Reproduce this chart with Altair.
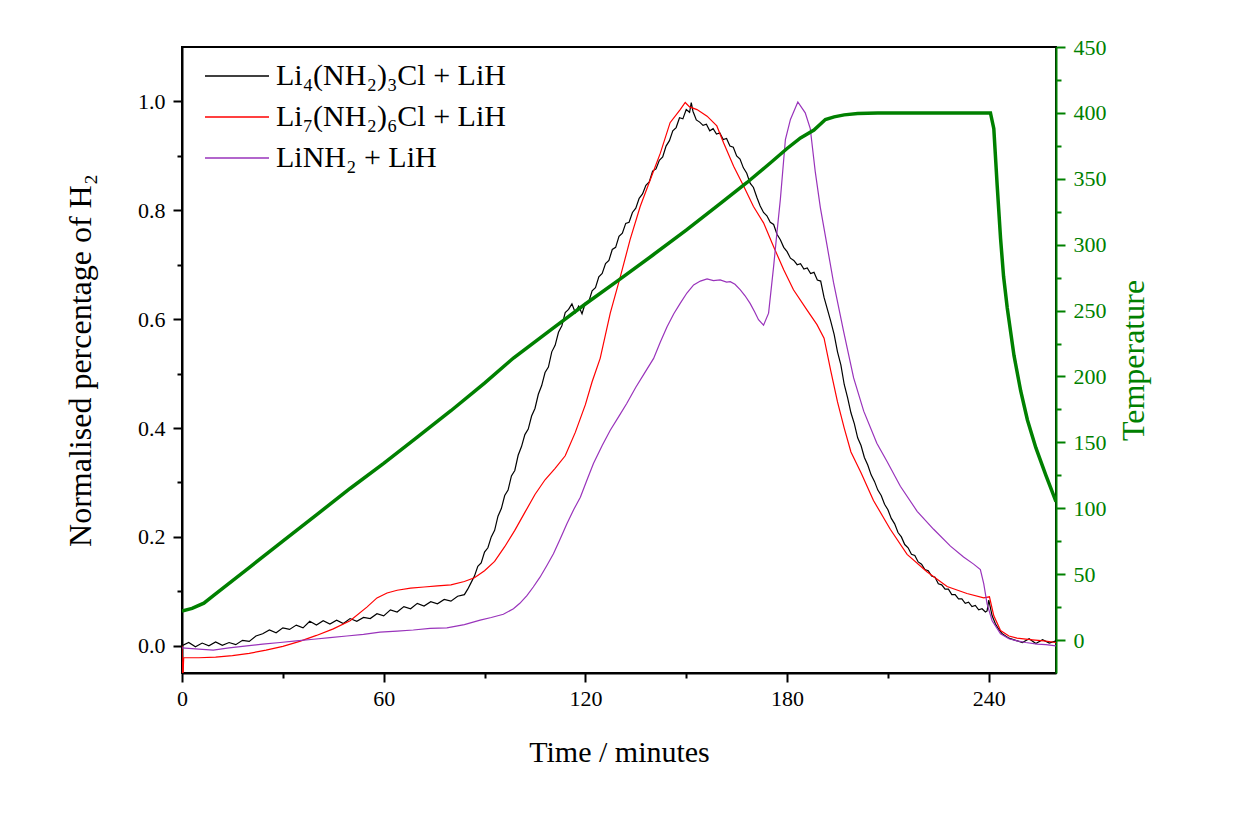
import altair as alt
import pandas as pd

FONT = "Liberation Serif"
GREEN = "#008000"

# ---- data ----
black_t = [0, 2, 4, 6, 8, 10, 12, 14, 16, 18, 20, 22, 24, 26, 28, 30, 32, 34, 36, 38,
           40, 42, 44, 46, 48, 50, 52, 54, 56, 58, 60, 62, 64, 66, 68, 70, 72, 74, 76, 78,
           80, 82,
           84, 85, 86, 87, 88, 89, 90, 91, 92, 93, 94, 95, 96, 97, 98, 99, 100, 101, 102,
           103, 104, 105, 106, 107, 108, 109, 110, 111, 112, 113, 114, 115, 116, 117, 118,
           119, 120, 121, 122, 123, 124, 125, 126, 127, 128, 129, 130, 131, 132, 133, 134,
           135, 136, 137, 138, 139, 140, 141, 142, 143, 144, 145, 146, 147, 148, 149, 150,
           151, 151.5, 152,
           153, 154, 155, 156, 157, 158, 159, 160, 161, 162, 163, 164, 165, 166, 167, 168,
           169, 170, 171, 172, 173, 174, 175, 176, 177, 178, 179, 180, 181, 182, 183, 184,
           185, 186, 187, 188, 189, 190, 191, 192, 193, 194, 195, 196, 197, 198, 199, 200,
           201, 202, 203, 204, 205, 206, 207, 208, 209, 210, 211, 212, 213, 214, 215, 216,
           217, 218, 219, 220, 221, 222, 223, 224, 225, 226, 227, 228, 229, 230, 231, 232,
           233, 234, 235, 236, 237, 238, 239, 239.5,
           240, 241, 242, 243, 244, 246, 248, 250, 252, 254, 256, 258, 260]
black_v = [0.000, 0.006, -0.002, 0.005, 0.000, 0.007, 0.001, 0.006, 0.002, 0.010, 0.008,
           0.018, 0.022, 0.029, 0.024, 0.033, 0.030, 0.038, 0.033, 0.045, 0.038, 0.046,
           0.040, 0.047, 0.041, 0.050, 0.045, 0.052, 0.050, 0.059, 0.055, 0.066, 0.062,
           0.072, 0.068, 0.078, 0.073, 0.081, 0.077, 0.085, 0.082, 0.091,
           0.094, 0.104, 0.116, 0.128, 0.146, 0.152, 0.172, 0.180, 0.200, 0.212, 0.238,
           0.252, 0.276, 0.286, 0.312, 0.322, 0.350, 0.366, 0.388, 0.398, 0.422, 0.436,
           0.462, 0.478, 0.502, 0.512, 0.540, 0.552, 0.576, 0.588, 0.612, 0.618, 0.628,
           0.612, 0.624, 0.610, 0.630, 0.632, 0.652, 0.658, 0.678, 0.684, 0.702, 0.708,
           0.728, 0.732, 0.752, 0.758, 0.776, 0.778, 0.796, 0.804, 0.822, 0.830, 0.846,
           0.852, 0.872, 0.876, 0.892, 0.898, 0.918, 0.928, 0.946, 0.952, 0.970, 0.968,
           0.985, 0.980, 0.998, 0.982,
           0.966, 0.962, 0.956, 0.958, 0.946, 0.950, 0.940, 0.942, 0.930, 0.932, 0.918,
           0.916, 0.900, 0.894, 0.878, 0.868, 0.850, 0.842, 0.824, 0.808, 0.796, 0.790,
           0.778, 0.774, 0.756, 0.746, 0.732, 0.724, 0.712, 0.708, 0.700, 0.702, 0.692,
           0.694, 0.684, 0.686, 0.672, 0.670, 0.640, 0.618, 0.596, 0.572, 0.540, 0.516,
           0.480, 0.456, 0.428, 0.408, 0.382, 0.368, 0.346, 0.332, 0.314, 0.302, 0.286,
           0.276, 0.260, 0.250, 0.234, 0.224, 0.208, 0.200, 0.186, 0.180, 0.168, 0.166,
           0.154, 0.150, 0.140, 0.138, 0.128, 0.126, 0.114, 0.112, 0.104, 0.104, 0.094,
           0.094, 0.086, 0.086, 0.078, 0.080, 0.072, 0.074, 0.066, 0.068, 0.062, 0.064,
           0.084, 0.055, 0.040, 0.030, 0.022, 0.014, 0.010, 0.006, 0.013, 0.004, 0.011,
           0.005, 0.009]

red_t = [0, 0.2, 0.5, 5, 10, 15, 20, 25, 30, 35, 40, 45, 50, 55, 58, 61, 64, 68, 72, 76,
         80, 84, 87, 90, 93, 96, 99, 102, 105, 108, 111, 114, 117, 120, 122, 124.4, 127.4,
         130.4, 133.3, 136.3, 139.3, 142.3, 145.2, 148.2, 149.7, 151, 153.2, 156.2, 159.1,
         161.1, 164.1, 167.1, 170, 173, 176, 179, 181.9, 185.9, 188.9, 191, 193, 195, 197,
         199, 202, 205.7, 210.7, 215.7, 221.6, 227.6, 233.5, 238.5, 240.2, 241.5, 243.5,
         246, 248.4, 253, 256.4, 260]
red_v = [0.0, -0.07, -0.022, -0.022, -0.021, -0.018, -0.014, -0.008, -0.001, 0.008, 0.019,
         0.031, 0.046, 0.071, 0.088, 0.097, 0.102, 0.106, 0.108, 0.110, 0.112, 0.118, 0.125,
         0.138, 0.155, 0.182, 0.212, 0.245, 0.278, 0.305, 0.326, 0.349, 0.392, 0.443, 0.485,
         0.528, 0.611, 0.678, 0.746, 0.807, 0.856, 0.905, 0.961, 0.985, 0.998, 0.990, 0.985,
         0.973, 0.955, 0.924, 0.881, 0.844, 0.807, 0.777, 0.733, 0.691, 0.654, 0.617, 0.590,
         0.565, 0.505, 0.448, 0.400, 0.356, 0.318, 0.267, 0.214, 0.168, 0.136, 0.109, 0.096,
         0.088, 0.090, 0.055, 0.028, 0.018, 0.014, 0.011, 0.009, 0.006]

purple_t = [0, 5, 9.3, 14, 19.3, 24, 29.2, 34, 39.1, 44, 49, 54, 58.9, 64, 68.8, 73.8, 78.8,
            84, 88.7, 92, 95.6, 98.6, 100.5, 102.6, 104.5, 106.5, 108.5, 110.5, 112.5, 114.5,
            116.5, 118.5, 120.5, 122.4, 125, 127.4, 130, 132.3, 135, 137.5, 140.3, 142.3,
            144.3, 146.3, 148.2, 150.2, 152.2, 154.2, 156.2, 158.1, 160.1, 162, 163.1, 164.5,
            166.1, 167.5, 169, 170.3, 171.5, 173, 174.5, 176, 177, 178, 179.5, 181, 183.2,
            185.4, 186.9, 188.4, 189.9, 191.9, 193.8, 196.8, 199.8, 202.8, 206.7, 209.7,
            213.7, 218.7, 223.6, 228.6, 232.5, 235.5, 237.5, 238.5, 239.5, 241, 243.5, 246,
            248.4, 251, 254.4, 257, 260]
purple_v = [-0.004, -0.006, -0.008, -0.004, 0.000, 0.003, 0.006, 0.009, 0.012, 0.015, 0.018,
            0.021, 0.025, 0.027, 0.029, 0.032, 0.033, 0.039, 0.047, 0.052, 0.058, 0.068,
            0.078, 0.092, 0.108, 0.126, 0.147, 0.169, 0.196, 0.224, 0.250, 0.273, 0.305,
            0.335, 0.368, 0.396, 0.422, 0.445, 0.475, 0.500, 0.528, 0.558, 0.586, 0.610,
            0.629, 0.648, 0.663, 0.670, 0.674, 0.671, 0.672, 0.668, 0.669, 0.664, 0.654,
            0.643, 0.629, 0.614, 0.599, 0.589, 0.611, 0.697, 0.760, 0.820, 0.930, 0.967,
            0.999, 0.979, 0.950, 0.870, 0.805, 0.735, 0.668, 0.578, 0.492, 0.431, 0.372,
            0.339, 0.293, 0.247, 0.214, 0.183, 0.163, 0.150, 0.140, 0.114, 0.077, 0.046,
            0.022, 0.013, 0.009, 0.006, 0.003, 0.002, 0.000]

temp_t = [0, 3, 6.5, 10, 20, 30, 40, 50, 60, 70, 80, 90, 98.6, 110, 120, 130.4, 140, 150,
          160, 168, 175, 180, 184, 188, 191.4, 194, 197, 201, 207, 240.5, 241.5, 242.5,
          243.5, 244.4, 245.5, 247.5, 249.5, 251.5, 254, 257, 260]
temp_v = [22, 24, 28, 35, 55, 75, 95, 115, 134, 154, 174, 195, 214, 236, 255, 274, 292,
          311, 331, 347, 362, 373, 381, 387, 395, 397, 398.5, 399.5, 400, 400, 388, 345,
          305, 276, 252, 216, 189, 167, 146, 125, 105]

names = ["Li\u2084(NH\u2082)\u2083Cl + LiH", "Li\u2087(NH\u2082)\u2086Cl + LiH", "LiNH\u2082 + LiH"]
colors = ["#000000", "#ff0000", "#9933bb"]

rows = []
for name, ts, vs in zip(names, [black_t, red_t, purple_t], [black_v, red_v, purple_v]):
    for i, (t, v) in enumerate(zip(ts, vs)):
        rows.append({"t": t, "v": v, "series": name, "i": i})
h2 = pd.DataFrame(rows)
temp = pd.DataFrame({"t": temp_t, "T": temp_v})

x_scale = alt.Scale(domain=[0, 260], nice=False, zero=False)
x_axis = alt.Axis(
    title="Time / minutes",
    values=[0, 30, 60, 90, 120, 150, 180, 210, 240],
    labelExpr="datum.value % 60 === 0 ? datum.label : ''",
    tickSize={"condition": {"test": "datum.value % 60 === 0", "value": 9}, "value": 5},
    grid=False, labelOverlap=False, labelFlush=False,
    domainColor="#000", tickColor="#000", labelColor="#000", titleColor="#000",
    labelFontSize=22, titleFontSize=30, titlePadding=28, labelPadding=6,
)
x_enc = alt.X("t:Q", scale=x_scale, axis=x_axis)

left_axis = alt.Axis(
    title="Normalised percentage of H\u2082",
    values=[0, 0.1, 0.2, 0.3, 0.4, 0.5, 0.6, 0.7, 0.8, 0.9, 1.0],
    labelExpr="round(datum.value*10) % 2 === 0 ? format(datum.value, '.1f') : ''",
    tickSize={"condition": {"test": "round(datum.value*10) % 2 === 0", "value": 9}, "value": 5},
    grid=False, labelOverlap=False, labelFlush=False, orient="left",
    domainColor="#000", tickColor="#000", labelColor="#000", titleColor="#000",
    labelFontSize=22, titleFontSize=32, titlePadding=40, labelPadding=8,
)
right_axis = alt.Axis(
    title="Temperature",
    values=list(range(0, 451, 25)),
    labelExpr="datum.value % 50 === 0 ? datum.label : ''",
    tickSize={"condition": {"test": "datum.value % 50 === 0", "value": 9}, "value": 5},
    grid=False, labelOverlap=False, labelFlush=False, orient="right",
    domainColor=GREEN, tickColor=GREEN, labelColor=GREEN, titleColor=GREEN,
    labelFontSize=22, titleFontSize=32, titlePadding=44, labelPadding=8, titleAngle=270,
)

lines = alt.Chart(h2).mark_line(strokeWidth=1.2, clip=True).encode(
    x=x_enc,
    y=alt.Y("v:Q", scale=alt.Scale(domain=[-0.05, 1.1], nice=False, zero=False), axis=left_axis),
    color=alt.Color("series:N", scale=alt.Scale(domain=names, range=colors),
                    legend=alt.Legend(title=None, orient="none", legendX=34, legendY=8,
                                      symbolType="M-1.6,0H1.6", symbolSize=1600,
                                      symbolStrokeWidth=1.6, labelOffset=18, rowPadding=5,
                                      padding=0, labelFontSize=30, labelFont=FONT,
                                      labelColor="#000", labelLimit=400)),
    order="i:Q",
)

temp_line = alt.Chart(temp).mark_line(strokeWidth=3.5, color=GREEN, clip=True).encode(
    x=x_enc,
    y=alt.Y("T:Q", scale=alt.Scale(domain=[-25, 450], nice=False, zero=False), axis=right_axis),
)

chart = alt.layer(lines, temp_line).resolve_scale(y="independent").properties(
    width=874, height=626,
    autosize=alt.AutoSizeParams(type="none"),
    padding={"left": 174, "top": 39, "right": 170, "bottom": 140},
    background="white",
).configure_view(stroke="#000", strokeWidth=2).configure_axis(
    labelFont=FONT, titleFont=FONT, titleFontWeight="normal", domainWidth=2, tickWidth=2,
).configure_legend(labelFont=FONT)

chart.save("out.html", embed_options={"renderer": "svg", "actions": False})
